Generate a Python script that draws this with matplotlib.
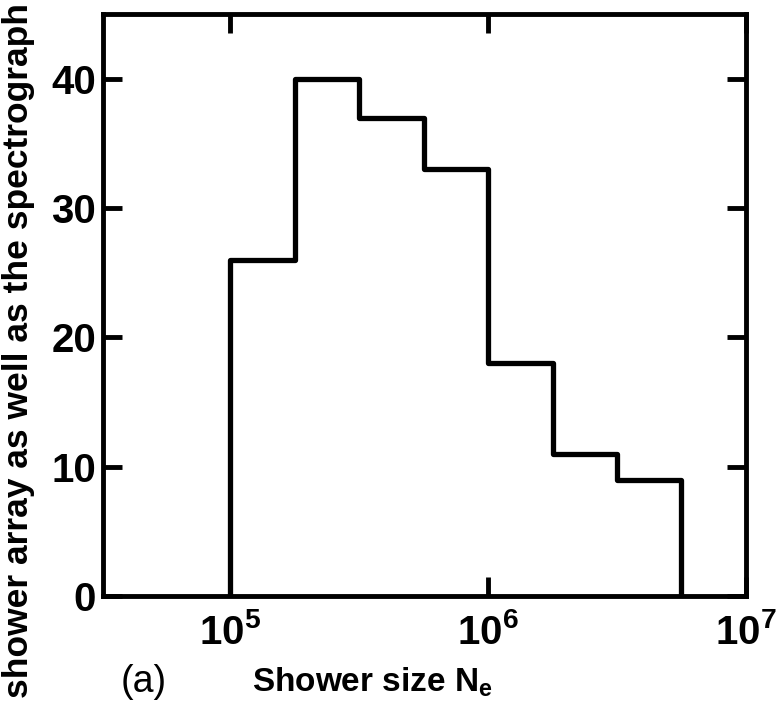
import matplotlib
matplotlib.use("Agg")
import matplotlib.pyplot as plt

# shower size histogram (panel a)
bin_edges = [1.0e5, 1.78e5, 3.16e5, 5.62e5, 1.0e6, 1.78e6, 3.16e6, 5.62e6]
counts = [26, 40, 37, 33, 18, 11, 9]
y_ticks = [0, 10, 20, 30, 40]
x_ticks = [1e5, 1e6, 1e7]
x_ticklabels = ["$10^{5}$", "$10^{6}$", "$10^{7}$"]

plt.rcParams["font.family"] = ["Liberation Sans", "DejaVu Sans"]
plt.rcParams["font.weight"] = "bold"
plt.rcParams["mathtext.fontset"] = "custom"
plt.rcParams["mathtext.rm"] = "Liberation Sans:bold"
plt.rcParams["mathtext.it"] = "Liberation Sans:bold"
plt.rcParams["mathtext.bf"] = "Liberation Sans:bold"

fig = plt.figure(figsize=(7.8, 7.06), dpi=100)
ax = fig.add_axes([0.132, 0.156, 0.824, 0.824])

ax.stairs(counts, bin_edges, color="black", linewidth=3.8, joinstyle="round")

ax.set_xscale("log")
ax.set_xlim(3.2e4, 1e7)
ax.set_ylim(0, 45)
ax.minorticks_off()
ax.set_xticks(x_ticks)
ax.set_xticklabels(x_ticklabels)
ax.set_yticks(y_ticks)
ax.tick_params(direction="in", length=14, width=3.5, top=True, right=True,
               labelsize=29, pad=12)
ax.tick_params(axis="y", pad=5)
for s in ax.spines.values():
    s.set_linewidth(3.5)

fig.text(0.323, 0.02, "Shower size N$_e$", fontsize=24, fontweight="bold")
fig.text(0.155, 0.02, "(a)", fontsize=27, fontweight="normal")
fig.text(0.024, 0.996, "shower array as well as the spectrograph", rotation=90,
         ha="center", va="top", fontsize=25.5, fontweight="bold")

plt.savefig("out.png", dpi=100)
